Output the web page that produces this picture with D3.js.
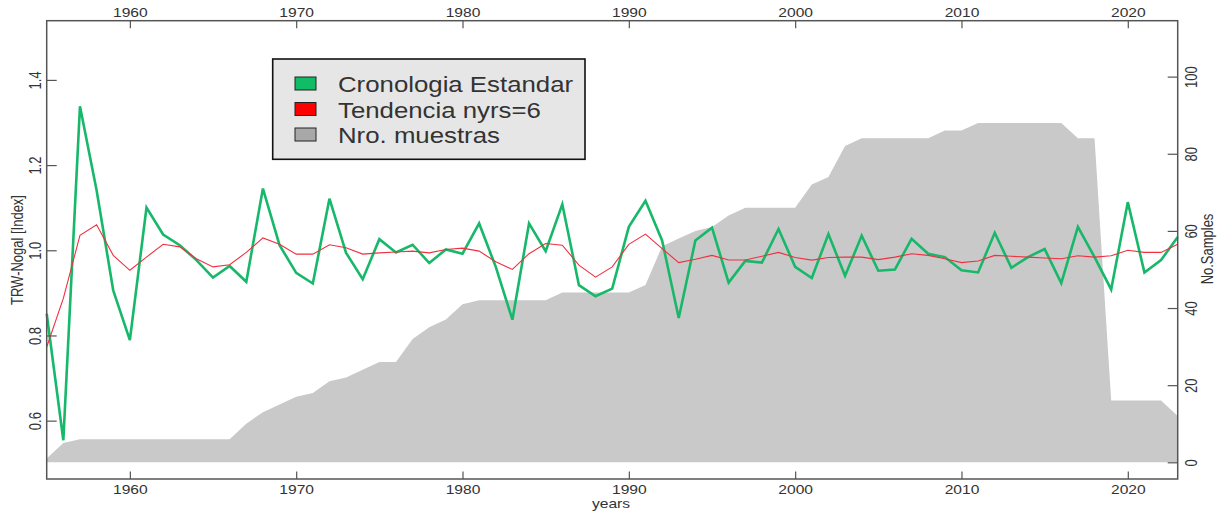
<!DOCTYPE html>
<html>
<head>
<meta charset="utf-8">
<script src="https://cdn.jsdelivr.net/npm/d3@7"></script>
<style>
  body { margin: 0; background: #fff; }
  svg { display: block; }
  text { font-family: "Liberation Sans", Arial, sans-serif; fill: #333; }
</style>
</head>
<body>
<svg width="1225" height="514"></svg>
<script>
// ---- data ----
var years = [1955,1956,1957,1958,1959,1960,1961,1962,1963,1964,1965,1966,1967,1968,1969,
    1970,1971,1972,1973,1974,1975,1976,1977,1978,1979,1980,1981,1982,1983,1984,1985,1986,
    1987,1988,1989,1990,1991,1992,1993,1994,1995,1996,1997,1998,1999,2000,2001,2002,2003,
    2004,2005,2006,2007,2008,2009,2010,2011,2012,2013,2014,2015,2016,2017,2018,2019,2020,
    2021,2022,2023];

// Cronologia Estandar
var crono = [0.851,0.554,1.338,1.141,0.906,0.789,1.100,1.037,1.012,0.977,0.936,0.963,0.926,
    1.145,1.012,0.947,0.922,1.121,0.994,0.932,1.026,0.995,1.013,0.970,1.002,0.992,1.063,
    0.961,0.837,1.063,0.998,1.108,0.918,0.892,0.910,1.055,1.116,1.023,0.841,1.023,1.053,
    0.924,0.975,0.971,1.050,0.961,0.935,1.038,0.940,1.034,0.952,0.955,1.027,0.992,0.984,
    0.953,0.948,1.041,0.959,0.984,1.003,0.923,1.055,0.984,0.908,1.113,0.948,0.977,1.031];

// Tendencia nyrs=6
var tend = [0.773,0.887,1.035,1.060,0.988,0.953,0.984,1.014,1.008,0.980,0.961,0.966,0.995,
    1.029,1.014,0.991,0.991,1.013,1.006,0.991,0.994,0.996,0.998,0.994,1.002,1.005,0.998,
    0.973,0.955,0.992,1.016,1.012,0.965,0.937,0.961,1.014,1.038,1.004,0.971,0.979,0.988,
    0.977,0.977,0.986,0.995,0.983,0.977,0.983,0.984,0.984,0.978,0.984,0.992,0.988,0.980,
    0.971,0.975,0.988,0.986,0.984,0.982,0.980,0.987,0.984,0.987,1.000,0.995,0.995,1.014];

// Nro. muestras
var muestras = [1,5,6,6,6,6,6,6,6,6,6,6,10,13,15,17,18,21,22,24,26,26,32,35,37,41,42,42,42,
    42,42,44,44,44,44,44,46,56,58,60,61,64,66,66,66,66,72,74,82,84,84,84,84,84,86,86,88,88,
    88,88,88,88,84,84,16,16,16,16,12];

var xTicks = [1960, 1970, 1980, 1990, 2000, 2010, 2020];
var leftTicks = [0.6, 0.8, 1.0, 1.2, 1.4];
var rightTicks = [0, 20, 40, 60, 80, 100];

var legendLabels = ['Cronologia Estandar', 'Tendencia nyrs=6', 'Nro. muestras'];
var legendColors = ['#10bc65', '#ff0000', '#a8a8a8'];

var rows = years.map(function(y, i) {
    return {year: y, crono: crono[i], tend: tend[i], n: muestras[i]};
});

// ---- layout ----
var svg = d3.select('svg');
var plot = {l: 46.7, r: 1177.7, t: 20.7, b: 479};
var stretch = 'scale(1.2,1)';   // the original picture is stretched sideways

var x = d3.scaleLinear().domain([1955, 2023]).range([plot.l, plot.r]);
var yL = d3.scaleLinear().domain([0.463, 1.539]).range([plot.b, plot.t]);
var yR = d3.scaleLinear().domain([-4.33, 114.5]).range([plot.b, plot.t]);

// sample depth polygon
var area = d3.area()
    .x(function(d) { return x(d.year); })
    .y0(yR(0))
    .y1(function(d) { return yR(d.n); });

svg.append('path')
    .datum(rows)
    .attr('d', area)
    .attr('fill', '#c9c9c9');

// chronology lines
var lineCrono = d3.line()
    .x(function(d) { return x(d.year); })
    .y(function(d) { return yL(d.crono); });

var lineTend = d3.line()
    .x(function(d) { return x(d.year); })
    .y(function(d) { return yL(d.tend); });

svg.append('path')
    .datum(rows)
    .attr('d', lineCrono)
    .attr('fill', 'none')
    .attr('stroke', '#17b86a')
    .attr('stroke-width', 2.6)
    .attr('stroke-linejoin', 'miter');

svg.append('path')
    .datum(rows)
    .attr('d', lineTend)
    .attr('fill', 'none')
    .attr('stroke', '#f0303f')
    .attr('stroke-width', 1.1);

// ---- axes ----
function styleAxis(g) {
    g.select('.domain').remove();
    g.selectAll('.tick line').attr('stroke', '#555').attr('stroke-width', 1.2);
    g.attr('font-family', null).attr('font-size', 13);
    g.selectAll('.tick text').attr('fill', '#333');
}

svg.append('g')
    .attr('transform', 'translate(0,' + plot.b + ')')
    .call(d3.axisBottom(x).tickValues(xTicks).tickSize(-7.5).tickPadding(6).tickFormat(d3.format('d')))
    .call(styleAxis)
    .selectAll('.tick text')
    .attr('transform', stretch);

svg.append('g')
    .attr('transform', 'translate(0,' + plot.t + ')')
    .call(d3.axisTop(x).tickValues(xTicks).tickSize(-7.5).tickPadding(3.4).tickFormat(d3.format('d')))
    .call(styleAxis)
    .selectAll('.tick text')
    .attr('transform', stretch);

svg.append('g')
    .attr('transform', 'translate(' + plot.l + ',0)')
    .call(d3.axisLeft(yL).tickValues(leftTicks).tickSize(-10).tickFormat(d3.format('.1f')))
    .call(styleAxis)
    .selectAll('.tick text')
    .attr('x', 0).attr('dy', 0)
    .attr('text-anchor', 'middle')
    .attr('transform', 'translate(-6,0) ' + stretch + ' rotate(-90)');

svg.append('g')
    .attr('transform', 'translate(' + plot.r + ',0)')
    .call(d3.axisRight(yR).tickValues(rightTicks).tickSize(-10))
    .call(styleAxis)
    .selectAll('.tick text')
    .attr('x', 0).attr('dy', 0)
    .attr('text-anchor', 'middle')
    .attr('transform', 'translate(19.5,0) ' + stretch + ' rotate(-90)');

// frame
svg.append('rect')
    .attr('x', plot.l).attr('y', plot.t)
    .attr('width', plot.r - plot.l).attr('height', plot.b - plot.t)
    .attr('fill', 'none')
    .attr('stroke', '#555')
    .attr('stroke-width', 1.5);

// axis titles
svg.append('text')
    .attr('transform', 'translate(611,508) ' + stretch)
    .attr('text-anchor', 'middle')
    .attr('font-size', 13)
    .text('years');

svg.append('text')
    .attr('transform', 'translate(23,250) ' + stretch + ' rotate(-90)')
    .attr('text-anchor', 'middle')
    .attr('font-size', 13)
    .text('TRW-Nogal [Index]');

svg.append('text')
    .attr('transform', 'translate(1213,249) ' + stretch + ' rotate(-90)')
    .attr('text-anchor', 'middle')
    .attr('font-size', 13)
    .text('No.Samples');

// ---- legend ----
var legend = svg.append('g');
legend.append('rect')
    .attr('x', 272.7).attr('y', 59)
    .attr('width', 312.3).attr('height', 100.3)
    .attr('fill', '#e6e6e6')
    .attr('stroke', '#111')
    .attr('stroke-width', 1.6);

var item = legend.selectAll('g.item')
    .data(legendLabels)
    .enter()
    .append('g')
    .attr('class', 'item')
    .attr('transform', function(d, i) { return 'translate(0,' + (83.5 + i * 25.5) + ')'; });

item.append('rect')
    .attr('x', 295).attr('y', -6.5)
    .attr('width', 21).attr('height', 13)
    .attr('fill', function(d, i) { return legendColors[i]; })
    .attr('stroke', '#222')
    .attr('stroke-width', 1);

item.append('text')
    .attr('transform', 'translate(338,8.5) ' + stretch)
    .attr('font-size', 21.5)
    .attr('fill', '#222')
    .text(function(d) { return d; });
</script>
</body>
</html>
